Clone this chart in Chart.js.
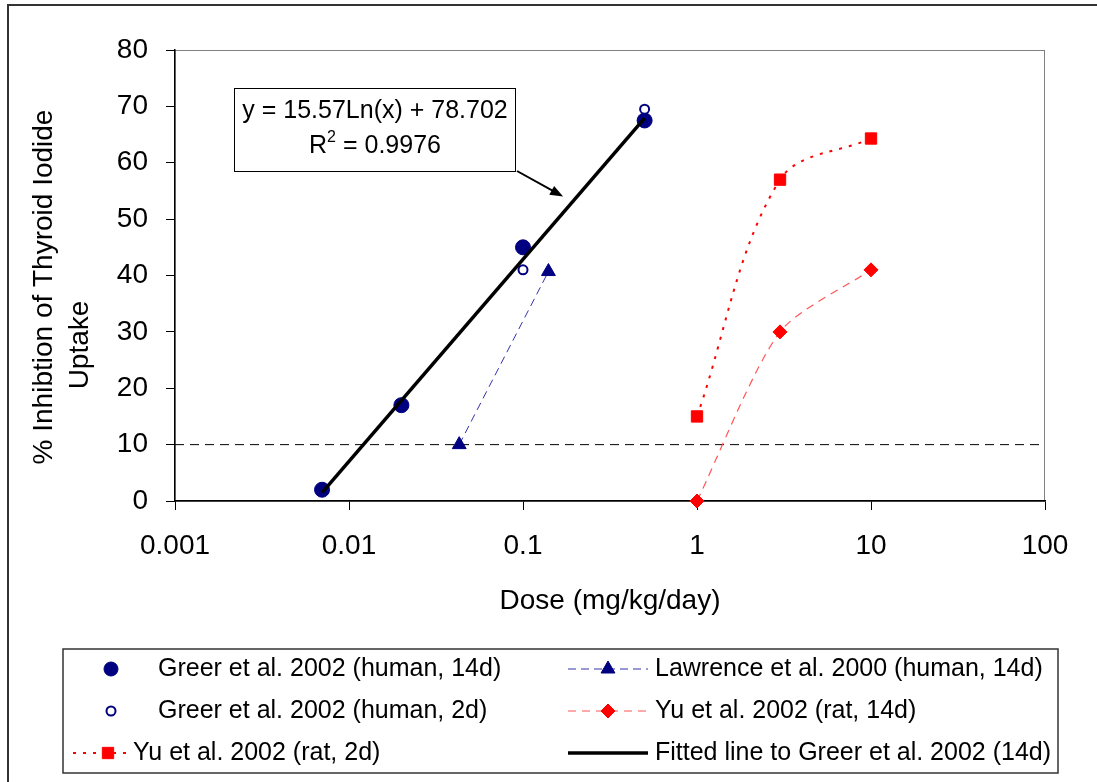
<!DOCTYPE html>
<html>
<head>
<meta charset="utf-8">
<script src="https://cdn.jsdelivr.net/npm/chart.js@4/dist/chart.umd.min.js"></script>
<style>
  body { margin: 0; background: #fff; }
  canvas { display: block; }
</style>
</head>
<body>
<canvas id="chart" width="1097" height="782"></canvas>
<script>
// values
const greer14X = [0.007, 0.02, 0.1, 0.5];
const greer14Y = [2, 17, 45, 67.5];
const greer2X = [0.1, 0.5];
const greer2Y = [41, 69.5];
const lawrenceX = [0.043, 0.14];
const lawrenceY = [10, 40.7];
const yu14X = [1, 3, 10];
const yu14Y = [0, 30, 41];
const yu2X = [1, 3, 10];
const yu2Y = [15, 57, 64.3];
const fitX = [0.007, 0.5];
const fitY = [1.5, 67.9];
const thresholdX = [0.001, 100];
const thresholdY = [10, 10];

const xTickValues = [0.001, 0.01, 0.1, 1, 10, 100];
const xTickLabels = ['0.001', '0.01', '0.1', '1', '10', '100'];

const seriesNames = [
  'Greer et al. 2002 (human, 14d)',
  'Greer et al. 2002 (human, 2d)',
  'Yu et al. 2002 (rat, 2d)',
  'Lawrence et al. 2000 (human, 14d)',
  'Yu et al. 2002 (rat, 14d)',
  'Fitted line to Greer et al. 2002 (14d)'
];

const NAVY = '#000080';
const RED = '#ff0000';
const FONT = '"Liberation Sans", Arial, sans-serif';

function pts(xs, ys) {
  return xs.map((x, i) => ({ x: x, y: ys[i] }));
}

Chart.defaults.font.family = FONT;
Chart.defaults.color = '#000';

// white page, outer frame, plot frame
const framePlugin = {
  id: 'frame',
  beforeDraw(chart) {
    const ctx = chart.ctx;
    ctx.save();
    ctx.fillStyle = '#fff';
    ctx.fillRect(0, 0, chart.width, chart.height);
    ctx.strokeStyle = '#333';
    ctx.lineWidth = 2;
    ctx.strokeRect(8, 5, 1200, 1000);
    const a = chart.chartArea;
    ctx.strokeStyle = '#808080';
    ctx.lineWidth = 1;
    ctx.strokeRect(a.left, a.top + 0.5, a.right - a.left - 0.5, a.bottom - a.top);
    ctx.restore();
  }
};

// axis titles, equation box and legend
const extrasPlugin = {
  id: 'extras',
  afterDraw(chart) {
    const ctx = chart.ctx;
    const xs = chart.scales.x, ys = chart.scales.y;
    ctx.save();
    ctx.fillStyle = '#000';
    ctx.textBaseline = 'middle';

    // axis titles
    ctx.font = '28px ' + FONT;
    ctx.textAlign = 'center';
    ctx.fillText('Dose (mg/kg/day)', 610, 601);
    ctx.save();
    ctx.translate(44, 287);
    ctx.rotate(-Math.PI / 2);
    ctx.fillText('% Inhibtion of Thyroid Iodide', 0, 0);
    ctx.restore();
    ctx.save();
    ctx.translate(80, 345);
    ctx.rotate(-Math.PI / 2);
    ctx.fillText('Uptake', 0, 0);
    ctx.restore();

    // equation box
    ctx.fillStyle = '#fff';
    ctx.fillRect(234, 88, 281, 83);
    ctx.strokeStyle = '#000';
    ctx.lineWidth = 1;
    ctx.strokeRect(234.5, 88.5, 281, 83);
    ctx.fillStyle = '#000';
    ctx.font = '25px ' + FONT;
    ctx.fillText('y = 15.57Ln(x) + 78.702', 375, 111);
    // R^2 line with a raised small 2
    const big = '25px ' + FONT, small = '16px ' + FONT;
    ctx.font = big;
    const wR = ctx.measureText('R').width;
    const wRest = ctx.measureText(' = 0.9976').width;
    ctx.font = small;
    const w2 = ctx.measureText('2').width;
    let sx = 375 - (wR + w2 + wRest) / 2;
    ctx.textAlign = 'left';
    ctx.font = big;
    ctx.fillText('R', sx, 146);
    ctx.font = small;
    ctx.fillText('2', sx + wR, 138);
    ctx.font = big;
    ctx.fillText(' = 0.9976', sx + wR + w2, 146);

    // arrow to the fitted line
    const tipX = xs.getPixelForValue(0.17), tipY = ys.getPixelForValue(54);
    const fromX = 517, fromY = 171;
    const ang = Math.atan2(tipY - fromY, tipX - fromX);
    ctx.lineWidth = 2;
    ctx.beginPath();
    ctx.moveTo(fromX, fromY);
    ctx.lineTo(tipX - 8 * Math.cos(ang), tipY - 8 * Math.sin(ang));
    ctx.stroke();
    ctx.beginPath();
    ctx.moveTo(tipX, tipY);
    ctx.lineTo(tipX - 13 * Math.cos(ang) + 5 * Math.sin(ang), tipY - 13 * Math.sin(ang) - 5 * Math.cos(ang));
    ctx.lineTo(tipX - 13 * Math.cos(ang) - 5 * Math.sin(ang), tipY - 13 * Math.sin(ang) + 5 * Math.cos(ang));
    ctx.closePath();
    ctx.fill();

    // legend box
    ctx.fillStyle = '#fff';
    ctx.fillRect(63, 649, 995, 124);
    ctx.strokeStyle = '#333';
    ctx.lineWidth = 1.5;
    ctx.strokeRect(63, 649, 995, 124);

    const ds = chart.data.datasets;
    const rows = [669, 711, 753];
    const items = [
      { d: 0, row: 0, line: null, mx: 111, tx: 158 },
      { d: 1, row: 1, line: null, mx: 111, tx: 158 },
      { d: 4, row: 2, line: [73, 128], mx: 108, tx: 133 },
      { d: 2, row: 0, line: [568, 648], mx: 608, tx: 655 },
      { d: 3, row: 1, line: [568, 648], mx: 608, tx: 655 },
      { d: 5, row: 2, line: [568, 648], mx: null, tx: 655 }
    ];
    items.forEach((it, k) => {
      const d = ds[it.d];
      const y = rows[it.row];
      if (it.line) {
        ctx.save();
        ctx.strokeStyle = d.borderColor;
        ctx.lineWidth = d.borderWidth;
        ctx.setLineDash(d.borderDash || []);
        ctx.beginPath();
        ctx.moveTo(it.line[0], y);
        ctx.lineTo(it.line[1], y);
        ctx.stroke();
        ctx.restore();
      }
      if (it.mx !== null) {
        ctx.save();
        ctx.fillStyle = d.pointBackgroundColor;
        ctx.strokeStyle = d.pointBorderColor;
        ctx.lineWidth = d.pointBorderWidth;
        Chart.helpers.drawPoint(ctx, {
          pointStyle: d.pointStyle,
          radius: it.d === 0 ? 7 : d.pointRadius,
          rotation: 0,
          borderWidth: d.pointBorderWidth
        }, it.mx, y);
        ctx.restore();
      }
      ctx.fillStyle = '#000';
      ctx.textAlign = 'left';
      ctx.font = '25px ' + FONT;
      ctx.fillText(seriesNames[k], it.tx, y);
    });
    ctx.restore();
  }
};

const ctx = document.getElementById('chart').getContext('2d');
const chart = new Chart(ctx, {
  type: 'scatter',
  data: {
    datasets: [
      {
        label: seriesNames[0],
        data: pts(greer14X, greer14Y),
        showLine: false,
        pointStyle: 'circle',
        pointRadius: 7.5,
        pointBackgroundColor: NAVY,
        pointBorderColor: NAVY,
        pointBorderWidth: 1,
        order: 3
      },
      {
        label: seriesNames[1],
        data: pts(greer2X, greer2Y),
        showLine: false,
        pointStyle: 'circle',
        pointRadius: 4.5,
        pointBackgroundColor: '#fff',
        pointBorderColor: NAVY,
        pointBorderWidth: 2,
        order: 2
      },
      {
        label: seriesNames[3],
        data: pts(lawrenceX, lawrenceY),
        showLine: true,
        borderColor: '#3333aa',
        borderWidth: 1,
        borderDash: [8, 5],
        pointStyle: 'triangle',
        pointRadius: 8,
        pointBackgroundColor: NAVY,
        pointBorderColor: NAVY,
        pointBorderWidth: 1,
        order: 4
      },
      {
        label: seriesNames[4],
        data: pts(yu14X, yu14Y),
        showLine: true,
        tension: 0.25,
        borderColor: '#ff5555',
        borderWidth: 1.2,
        borderDash: [8, 6],
        pointStyle: 'rectRot',
        pointRadius: 7,
        pointBackgroundColor: RED,
        pointBorderColor: RED,
        pointBorderWidth: 1,
        order: 4
      },
      {
        label: seriesNames[2],
        data: pts(yu2X, yu2Y),
        showLine: true,
        tension: 0.35,
        borderColor: RED,
        borderWidth: 2,
        borderDash: [3, 7],
        pointStyle: 'rect',
        pointRadius: 8,
        pointBackgroundColor: RED,
        pointBorderColor: RED,
        pointBorderWidth: 1,
        order: 4
      },
      {
        label: seriesNames[5],
        data: pts(fitX, fitY),
        showLine: true,
        borderColor: '#000',
        borderWidth: 3.5,
        pointRadius: 0,
        order: 0
      },
      {
        label: 'threshold',
        data: pts(thresholdX, thresholdY),
        showLine: true,
        borderColor: '#000',
        borderWidth: 1,
        borderDash: [9, 6],
        pointRadius: 0,
        order: 9
      }
    ]
  },
  options: {
    responsive: false,
    animation: false,
    clip: false,
    layout: { padding: { left: 0, top: 50, right: 52, bottom: 0 } },
    plugins: {
      legend: { display: false },
      tooltip: { enabled: false }
    },
    scales: {
      x: {
        type: 'logarithmic',
        min: 0.001,
        max: 100,
        afterBuildTicks: axis => { axis.ticks = xTickValues.map(v => ({ value: v })); },
        afterFit: axis => { axis.height = 281; },
        ticks: {
          font: { size: 28 },
          color: '#000',
          padding: 19,
          maxRotation: 0,
          autoSkip: false,
          callback: (value, index) => xTickLabels[index]
        },
        grid: { drawOnChartArea: false, drawTicks: true, tickLength: 9, color: '#000' },
        border: { display: true, color: '#000', width: 1.5 }
      },
      y: {
        min: 0,
        max: 80,
        afterFit: axis => { axis.width = 175; },
        ticks: {
          stepSize: 10,
          font: { size: 28 },
          color: '#000',
          padding: 18
        },
        grid: { drawOnChartArea: false, drawTicks: true, tickLength: 9, color: '#000' },
        border: { display: true, color: '#000', width: 1.5 }
      }
    }
  },
  plugins: [framePlugin, extrasPlugin]
});
</script>
</body>
</html>
